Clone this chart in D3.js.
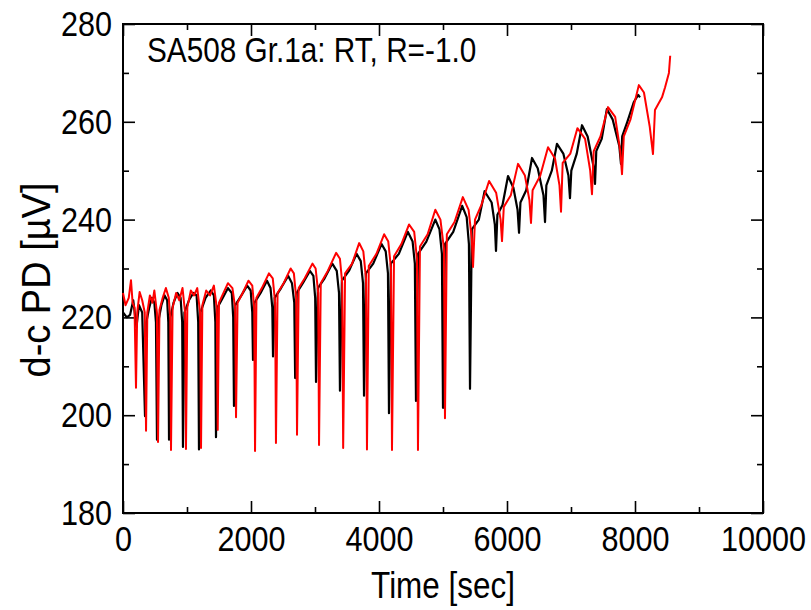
<!DOCTYPE html>
<html lang="en">
<head>
<meta charset="UTF-8">
<title>SA508 Gr.1a d-c PD vs time</title>
<style>
    body { margin: 0; background: #fff; }
    svg { display: block; }
    text { font-family: Arial, "Liberation Sans", sans-serif; fill: #000; }
    .series { fill: none; stroke-linejoin: round; }
</style>
</head>
<body>
<svg></svg>
<script src="https://d3js.org/d3.v7.min.js"></script>
<script>
// [time (sec), d-c PD (uV)]
const blackSeries = [
    [0,221],[60,220],[110,220.5],[160,223.5],[210,218],[250,222.5],[300,221],[344,199.8],
    [365,219],[410,222],[450,224],[490,223],[515,219],[531,195],
    [550,219],[600,222.5],[650,224.5],[690,223.5],[708,219],[719,195],
    [740,220],[790,223],[850,225],[900,224],[925,219],[937,193.5],
    [960,221],[1030,223.5],[1100,225],[1150,224.5],[1175,219],[1187,193],
    [1210,221],[1290,224],[1370,225.5],[1420,224.5],[1443,219],[1453,195.5],
    [1475,222],[1560,224],[1640,226],[1700,225],[1722,220],[1734,201.9],
    [1755,222.5],[1850,224.5],[1940,226.5],[1995,225.5],[2020,221],[2031,211.3],
    [2055,223],[2150,225],[2250,227.5],[2305,226],[2333,222],[2344,212],
    [2370,224],[2470,226],[2580,228.5],[2640,227],[2676,223],[2690,207.6],
    [2715,225],[2810,227],[2920,229.5],[2975,228.5],[3003,224],[3016,206.8],
    [3045,226],[3150,228],[3270,231],[3340,229.5],[3375,225],[3390,205],
    [3420,227.5],[3530,229.5],[3650,233],[3715,231.5],[3750,227],[3766,204],
    [3795,229],[3910,231],[4040,235],[4105,233.5],[4140,229],[4156,200.4],
    [4185,231],[4310,233],[4450,237.5],[4525,235.5],[4560,231],[4578,202.9],
    [4610,233],[4740,235.5],[4880,240],[4945,238],[4983,233],[5000,201.5],
    [5030,235],[5160,237.5],[5300,242.8],[5370,240.5],[5405,235],[5422,205.4],
    [5450,238],[5560,240],[5650,245.8],[5760,243.5],[5810,239],[5828,233.6],
    [5850,241],[5930,243],[6016,248.9],[6100,246.5],[6165,242],[6188,237.3],
    [6210,243.5],[6300,246],[6391,252.6],[6480,250.5],[6570,245],[6594,239.5],
    [6615,247],[6700,250],[6781,255.5],[6880,253.5],[6960,249],[6984,244.4],
    [7005,250],[7090,253.5],[7172,259.3],[7260,257],[7350,251],[7375,247.3],
    [7395,254],[7480,256.5],[7560,262.6],[7650,260.5],[7755,255],[7781,251.4],
    [7800,257],[7880,260],[7980,264],[8050,265.5],[8078,265]
];

const redSeries = [
    [0,225],[40,222.5],[90,224],[125,227.6],[150,223],[180,222],[203,205.6],
    [222,221],[260,225.2],[300,223.5],[340,221],[360,196.8],
    [380,221],[420,224.5],[460,223],[490,225.5],[530,221],[547,194.5],
    [570,221.5],[620,224],[670,226],[715,224],[738,220],[750,192.9],
    [775,222],[830,225],[880,223.5],[930,226],[970,221],[984,193.1],
    [1005,222],[1060,225.5],[1110,224.5],[1160,226],[1205,221],[1219,193.3],
    [1240,222.5],[1300,225.5],[1360,224.5],[1420,226.5],[1465,222],[1480,197],
    [1500,223],[1570,225],[1640,227],[1710,226],[1752,222],[1766,199.6],
    [1790,223],[1870,225],[1960,227.5],[2020,226.5],[2050,222],[2063,192.7],
    [2085,224],[2170,226],[2280,229],[2340,228],[2377,223],[2390,194.3],
    [2415,225],[2510,227],[2620,230],[2670,229],[2706,224],[2719,196],
    [2745,226],[2840,228],[2960,231],[3010,230],[3050,225],[3063,193.9],
    [3090,227],[3200,229.5],[3330,233.2],[3390,232],[3425,227],[3440,193.3],
    [3470,229],[3580,231],[3690,235.2],[3755,233.5],[3797,228],[3812,193],
    [3840,230.5],[3960,233],[4080,237],[4145,235.5],[4188,230],[4203,192.9],
    [4235,232.5],[4350,235],[4470,239],[4550,237.5],[4593,232],[4609,192.9],
    [4640,234.5],[4760,237],[4880,242],[4960,240],[5015,234],[5031,199.4],
    [5060,237],[5180,239.5],[5310,244.6],[5400,242],[5450,236],[5469,230.3],
    [5500,240],[5600,243],[5720,247.9],[5830,245.5],[5900,240],[5922,235.6],
    [5950,242.6],[6060,245],[6172,251.4],[6280,249],[6350,244],[6375,239.3],
    [6400,246],[6520,249],[6641,254.8],[6750,252.5],[6820,247],[6844,241.6],
    [6870,251.6],[6990,253.5],[7100,258.7],[7220,256.5],[7300,250],[7328,245.2],
    [7355,254],[7460,257],[7578,263],[7690,261],[7770,254],[7797,249.3],
    [7825,257],[7930,260.5],[8060,267.5],[8140,266],[8230,259],[8281,253.4],
    [8312,262.4],[8422,265],[8469,267],[8530,270],[8550,273.5]
];

const xMajor = [0, 2000, 4000, 6000, 8000, 10000];
const xMinor = [1000, 3000, 5000, 7000, 9000];
const yMajor = [180, 200, 220, 240, 260, 280];
const yMinor = [190, 210, 230, 250, 270];

const chartTitle = "SA508 Gr.1a: RT, R=-1.0";
const xLabel = "Time [sec]";
const yLabel = "d-c PD [\u00b5V]";

const width = 811, height = 610;
const margin = { top: 24, right: 48, bottom: 97, left: 123 };
const squeeze = 0.85;   // reference text is a condensed Arial

const svg = d3.select("svg")
    .attr("width", width)
    .attr("height", height);

const x = d3.scaleLinear()
    .domain([0, 10000])
    .range([margin.left, width - margin.right]);

const y = d3.scaleLinear()
    .domain([180, 280])
    .range([height - margin.bottom, margin.top]);

// ticks point inward on all four sides
function tickAxis(axis, values, size, pos, labels) {
    const g = svg.append("g")
        .attr("transform", pos)
        .call(axis.tickValues(values).tickSize(-size).tickSizeOuter(0)
            .tickFormat(labels ? d3.format("d") : ""));
    g.select(".domain").remove();
    g.selectAll(".tick line").attr("stroke", "#000").attr("stroke-width", 1.6);
    return g;
}

const bottom = height - margin.bottom;
const gx = tickAxis(d3.axisBottom(x).tickPadding(12), xMajor, 12, `translate(0,${bottom})`, true);
tickAxis(d3.axisBottom(x), xMinor, 6, `translate(0,${bottom})`, false);
tickAxis(d3.axisTop(x), xMajor, 12, `translate(0,${margin.top})`, false);
tickAxis(d3.axisTop(x), xMinor, 6, `translate(0,${margin.top})`, false);

const gy = tickAxis(d3.axisLeft(y).tickPadding(13), yMajor, 12, `translate(${margin.left},0)`, true);
tickAxis(d3.axisLeft(y), yMinor, 6, `translate(${margin.left},0)`, false);
tickAxis(d3.axisRight(y), yMajor, 12, `translate(${width - margin.right},0)`, false);
tickAxis(d3.axisRight(y), yMinor, 6, `translate(${width - margin.right},0)`, false);

gx.selectAll("text")
    .attr("font-size", 36)
    .attr("font-family", "Arial, 'Liberation Sans', sans-serif")
    .attr("transform", `scale(${squeeze},1)`);
gy.selectAll("text")
    .attr("font-size", 36)
    .attr("font-family", "Arial, 'Liberation Sans', sans-serif")
    .attr("transform", `scale(${squeeze},1)`);

// frame
svg.append("rect")
    .attr("x", x(0))
    .attr("y", y(280))
    .attr("width", x(10000) - x(0))
    .attr("height", y(180) - y(280))
    .attr("fill", "none")
    .attr("stroke", "#000")
    .attr("stroke-width", 2);

const line = d3.line()
    .x(d => x(d[0]))
    .y(d => y(d[1]));

svg.append("path")
    .datum(blackSeries)
    .attr("class", "series")
    .attr("stroke", "#000")
    .attr("stroke-width", 2.2)
    .attr("d", line);

svg.append("path")
    .datum(redSeries)
    .attr("class", "series")
    .attr("stroke", "#ff0000")
    .attr("stroke-width", 2)
    .attr("d", line);

// titles
svg.append("text")
    .attr("transform", `translate(147,62) scale(${squeeze},1)`)
    .attr("font-size", 35)
    .text(chartTitle);

svg.append("text")
    .attr("transform", `translate(${(x(0) + x(10000)) / 2},598) scale(${squeeze},1)`)
    .attr("text-anchor", "middle")
    .attr("font-size", 37)
    .text(xLabel);

svg.append("text")
    .attr("transform", `translate(50,280) rotate(-90) scale(0.95,1)`)
    .attr("text-anchor", "middle")
    .attr("font-size", 40)
    .text(yLabel);
</script>
</body>
</html>
